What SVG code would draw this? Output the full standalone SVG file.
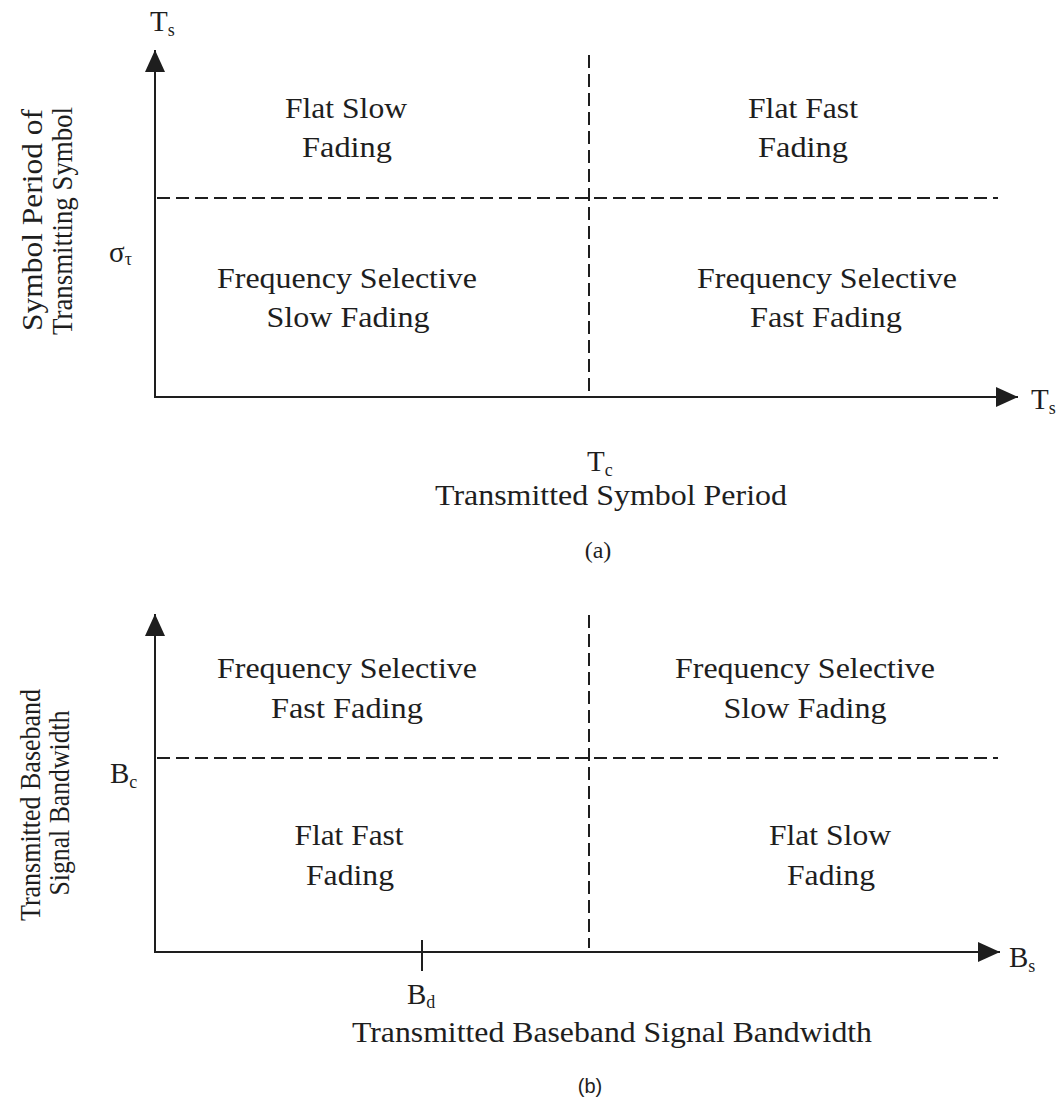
<svg xmlns="http://www.w3.org/2000/svg" width="1062" height="1115" viewBox="0 0 1062 1115">
<style>
text{font-family:"Liberation Serif","Times New Roman",Times,serif;fill:#1e1e1e}
.t{font-size:30px;text-anchor:middle}
.r{font-size:29px;text-anchor:middle}
.s{font-size:29px}
.sub{font-size:18px}
.ax{stroke:#1e1e1e;stroke-width:2;fill:none}
.dash{stroke:#1e1e1e;stroke-width:2;fill:none;stroke-dasharray:13 6}
</style>
<defs>
<marker id="ah" viewBox="0 0 22 20" refX="22" refY="10" markerWidth="22" markerHeight="20" markerUnits="userSpaceOnUse" orient="auto">
<path d="M0,0 L22,10 L0,20 Z" fill="#1e1e1e"/>
</marker>
</defs>
<rect width="1062" height="1115" fill="#ffffff"/>

<g id="connectors">
<line class="ax" x1="155" y1="397" x2="155" y2="50" marker-end="url(#ah)"/>
<line class="ax" x1="154" y1="397" x2="1018" y2="397" marker-end="url(#ah)"/>
<line class="dash" x1="589" y1="55" x2="589" y2="392"/>
<line class="dash" x1="157" y1="198" x2="998" y2="198"/>
<line class="ax" x1="155" y1="952" x2="155" y2="614" marker-end="url(#ah)"/>
<line class="ax" x1="154" y1="952" x2="1000" y2="952" marker-end="url(#ah)"/>
<line class="dash" x1="589" y1="615" x2="589" y2="948"/>
<line class="dash" x1="157" y1="758" x2="998" y2="758"/>
<line class="ax" x1="422" y1="940" x2="422" y2="971"/>
</g>

<g id="chart-a">
<g id="a-ylabel">
<text class="r" transform="translate(42,220) rotate(-90)" textLength="222" lengthAdjust="spacingAndGlyphs">Symbol Period of</text>
<text class="r" transform="translate(72,221) rotate(-90)" textLength="228" lengthAdjust="spacingAndGlyphs">Transmitting Symbol</text>
</g>
<text id="a-ts-top" class="s" x="150" y="31">T<tspan class="sub" dy="5">s</tspan></text>
<text id="a-sigma" class="s" x="109" y="262">σ<tspan class="sub" dy="3">τ</tspan></text>
<text id="a-ts-right" class="s" x="1031" y="409">T<tspan class="sub" dy="5">s</tspan></text>
<text id="a-tc" class="s" x="587" y="471">T<tspan class="sub" dy="5">c</tspan></text>
<text id="a-xlabel" class="t" x="611" y="505" textLength="352" lengthAdjust="spacingAndGlyphs">Transmitted Symbol Period</text>
<text id="a-caption" class="t" x="598" y="558" style="font-size:24px">(a)</text>

<g id="a-flat-slow">
<text class="t" x="346" y="118" textLength="122" lengthAdjust="spacingAndGlyphs">Flat Slow</text>
<text class="t" x="347" y="157" textLength="90" lengthAdjust="spacingAndGlyphs">Fading</text>
</g>
<g id="a-flat-fast">
<text class="t" x="803" y="118" textLength="110" lengthAdjust="spacingAndGlyphs">Flat Fast</text>
<text class="t" x="803" y="157" textLength="90" lengthAdjust="spacingAndGlyphs">Fading</text>
</g>
<g id="a-fs-slow">
<text class="t" x="347" y="288" textLength="260" lengthAdjust="spacingAndGlyphs">Frequency Selective</text>
<text class="t" x="348" y="327" textLength="163" lengthAdjust="spacingAndGlyphs">Slow Fading</text>
</g>
<g id="a-fs-fast">
<text class="t" x="827" y="288" textLength="260" lengthAdjust="spacingAndGlyphs">Frequency Selective</text>
<text class="t" x="826" y="327" textLength="152" lengthAdjust="spacingAndGlyphs">Fast Fading</text>
</g>
</g>

<g id="chart-b">
<g id="b-ylabel">
<text class="r" transform="translate(40,805) rotate(-90)" textLength="232" lengthAdjust="spacingAndGlyphs">Transmitted Baseband</text>
<text class="r" transform="translate(69,803) rotate(-90)" textLength="185" lengthAdjust="spacingAndGlyphs">Signal Bandwidth</text>
</g>
<text id="b-bc" class="s" x="110" y="783">B<tspan class="sub" dy="5">c</tspan></text>
<text id="b-bs" class="s" x="1009" y="967">B<tspan class="sub" dy="5">s</tspan></text>
<text id="b-bd" class="s" x="407" y="1004">B<tspan class="sub" dy="4">d</tspan></text>
<text id="b-xlabel" class="t" x="612" y="1042" textLength="520" lengthAdjust="spacingAndGlyphs">Transmitted Baseband Signal Bandwidth</text>
<text id="b-caption" x="590" y="1093" style="font-family:'Liberation Sans',Arial,sans-serif;font-size:20px;text-anchor:middle">(b)</text>

<g id="b-fs-fast">
<text class="t" x="347" y="678" textLength="260" lengthAdjust="spacingAndGlyphs">Frequency Selective</text>
<text class="t" x="347" y="718" textLength="152" lengthAdjust="spacingAndGlyphs">Fast Fading</text>
</g>
<g id="b-fs-slow">
<text class="t" x="805" y="678" textLength="260" lengthAdjust="spacingAndGlyphs">Frequency Selective</text>
<text class="t" x="805" y="718" textLength="163" lengthAdjust="spacingAndGlyphs">Slow Fading</text>
</g>
<g id="b-flat-fast">
<text class="t" x="349" y="845" textLength="109" lengthAdjust="spacingAndGlyphs">Flat Fast</text>
<text class="t" x="350" y="885" textLength="88" lengthAdjust="spacingAndGlyphs">Fading</text>
</g>
<g id="b-flat-slow">
<text class="t" x="830" y="845" textLength="122" lengthAdjust="spacingAndGlyphs">Flat Slow</text>
<text class="t" x="831" y="885" textLength="88" lengthAdjust="spacingAndGlyphs">Fading</text>
</g>
</g>
</svg>
